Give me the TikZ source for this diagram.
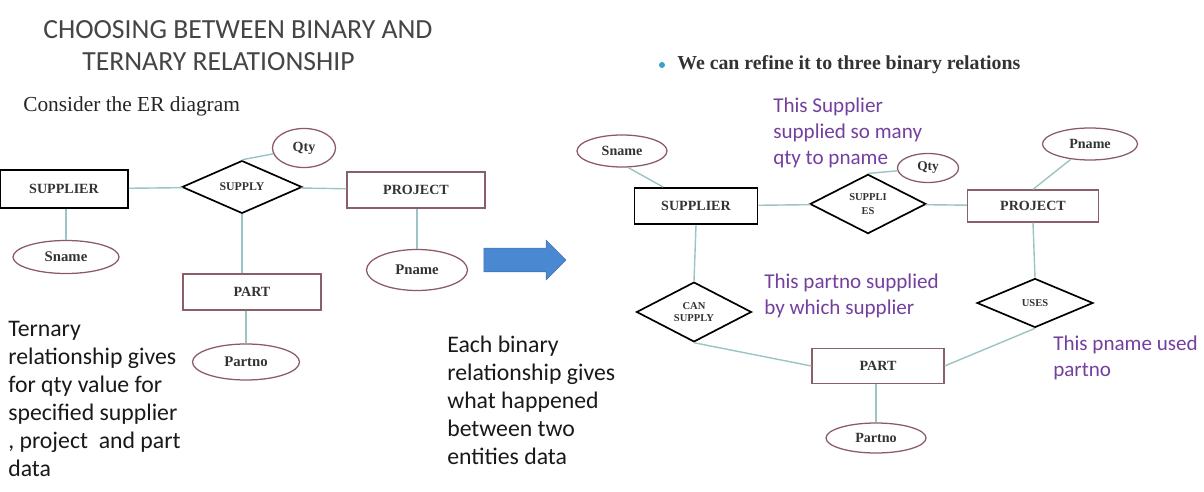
\documentclass[tikz,border=0pt]{standalone}
\usepackage{fontspec}
\setmainfont{Liberation Serif}
\newfontfamily\slidefont{Carlito}
\usetikzlibrary{shapes.geometric,shapes.arrows}
\definecolor{linkteal}{HTML}{9CC4C4}
\definecolor{attrred}{HTML}{8C5A64}
\definecolor{entred}{HTML}{8A6068}
\definecolor{notepurple}{HTML}{7440A0}
\definecolor{arrowblue}{HTML}{4A89D2}
\definecolor{titlegray}{HTML}{454545}
\definecolor{labelgray}{HTML}{333333}
\definecolor{bulletblue}{HTML}{3AA0C8}
\tikzset{
  dims/.style 2 args={minimum width=#1mm, minimum height=#2mm},
  entity/.style={draw=entred, line width=0.9pt, rectangle, align=center, inner sep=0pt, text=labelgray, font=\bfseries\fontsize{10}{11}\selectfont},
  strongent/.style={entity, draw=black, line width=1.4pt},
  relship/.style={draw=black, line width=1.2pt, diamond, align=center, inner sep=0pt, text=labelgray, font=\bfseries\fontsize{8.4}{8.5}\selectfont},
  attr/.style={draw=attrred, line width=0.9pt, ellipse, inner sep=0pt, text=labelgray, font=\bfseries\fontsize{10.5}{12}\selectfont},
  link/.style={draw=linkteal, line width=1pt},
  bodytext/.style={align=left, inner sep=0pt, text=black!90, font=\slidefont\fontsize{16.9}{19.9}\selectfont},
  note/.style={align=left, inner sep=0pt, text=notepurple, font=\slidefont\fontsize{15}{18.5}\selectfont},
  bigarrow/.style={single arrow, fill=arrowblue, draw=arrowblue!85!black, line width=0.4pt, inner xsep=0pt, inner ysep=2.875mm, minimum height=20.5mm, minimum width=9.75mm, single arrow head extend=2mm}
}

\begin{document}
\begin{tikzpicture}[x=0.25mm, y=-0.25mm]
  \useasboundingbox[fill=white] (0,0) rectangle (1204,492);

  % heading and remarks
  \node[anchor=base west, inner sep=0pt, text=titlegray, font=\slidefont\fontsize{19.7}{22}\selectfont] (ttlA) at (43,39) {CHOOSING BETWEEN BINARY AND};
  \node[anchor=base west, inner sep=0pt, text=titlegray, font=\slidefont\fontsize{19.7}{22}\selectfont] (ttlB) at (82,71) {TERNARY RELATIONSHIP};
  \node[anchor=base west, inner sep=0pt, text=black!85, font=\fontsize{15.2}{16}\selectfont] (consider) at (23,112) {Consider the ER diagram};
  \node[bodytext, anchor=north west] (ternote) at (8,321) {Ternary\\relationship gives\\for qty value for\\specified supplier\\, project\ \ and part\\data};
  \node[bodytext, anchor=north west] (binnote) at (447,336) {Each binary\\relationship gives\\what happened\\between two\\entities data};
  \node[bigarrow] (refine) at (519,260) {};

  % ternary diagram
  \node[strongent, dims={32}{9.5}] (sup) at (64,189) {SUPPLIER};
  \node[relship, dims={30}{12.5}] (supply) at (242,187) {SUPPLY};
  \node[attr, dims={15.75}{9.75}, font=\bfseries\fontsize{10}{12}\selectfont] (qty) at (304,148) {Qty};
  \node[entity, dims={34.5}{9}] (proj) at (416,190) {PROJECT};
  \node[attr, dims={26.5}{8.25}] (sname) at (66,257) {Sname};
  \node[attr, dims={25.25}{10.25}] (pname) at (417,270) {Pname};
  \node[entity, dims={34.5}{9}] (part) at (252,292) {PART};
  \node[attr, dims={26.75}{9}] (partno) at (246,362) {Partno};

  \draw[link] (sup) -- (supply);
  \draw[link] (supply) -- (proj);
  \draw[link] (supply.north) -- (qty);
  \draw[link] (sname) -- (sname |- sup.south);
  \draw[link] (pname) -- (pname |- proj.south);
  \draw[link] (supply.south) -- (supply.south |- part.north);
  \draw[link] (partno) -- (partno |- part.south);

  % binary diagrams
  \node[circle, fill=bulletblue, inner sep=0pt, minimum size=1.5mm] (blt) at (662,65) {};
  \node[anchor=base west, inner sep=0pt, text=labelgray, font=\bfseries\fontsize{14.1}{16}\selectfont] (bullet) at (677,70) {We can refine it to three binary relations};

  \node[attr, dims={22.5}{8}, font=\bfseries\fontsize{10}{12}\selectfont] (sname2) at (622,151) {Sname};
  \node[strongent, dims={30.75}{9}] (sup2) at (696,206) {SUPPLIER};
  \node[relship, dims={29}{12.25}, font=\bfseries\fontsize{7.5}{10.5}\selectfont] (supplies) at (868,204) {SUPPLI\\ES};
  \node[attr, dims={15.25}{7.25}, font=\bfseries\fontsize{9.5}{11}\selectfont] (qty2) at (928,168) {Qty};
  \node[entity, dims={32.75}{8}] (proj2) at (1033,206) {PROJECT};
  \node[attr, dims={23.75}{8}, font=\bfseries\fontsize{10}{12}\selectfont] (pname2) at (1090,144) {Pname};
  \node[relship, dims={28.75}{12.25}, font=\bfseries\fontsize{7.5}{9}\selectfont] (cansup) at (694,312) {CAN\\SUPPLY};
  \node[relship, dims={29}{12.25}, font=\bfseries\fontsize{7.5}{9}\selectfont] (uses) at (1035,303) {USES};
  \node[entity, dims={33}{8.75}] (part2) at (878,366) {PART};
  \node[attr, dims={25}{7.5}, font=\bfseries\fontsize{10}{12}\selectfont] (partno2) at (876,438) {Partno};

  \node[note, anchor=north west] (supnote) at (773,98) {This Supplier\\supplied so many\\qty to pname};
  \node[note, anchor=north west] (partnote) at (764,274) {This partno supplied\\by which supplier};
  \node[note, anchor=north west] (pnamenote) at (1053,336) {This pname used\\partno};

  \draw[link] (sname2.-70) -- (sup2.150);
  \draw[link] (sup2) -- (supplies);
  \draw[link] (supplies) -- (proj2);
  \draw[link] (supplies.north) -- (qty2);
  \draw[link] (pname2) -- (proj2.north);
  \draw[link] (sup2.south) -- (cansup.north);
  \draw[link] (proj2.south) -- (uses.north);
  \draw[link] (cansup.south) -- (part2.west);
  \draw[link] (uses.south) -- (part2.east);
  \draw[link] (partno2) -- (partno2 |- part2.south);
\end{tikzpicture}
\end{document}
